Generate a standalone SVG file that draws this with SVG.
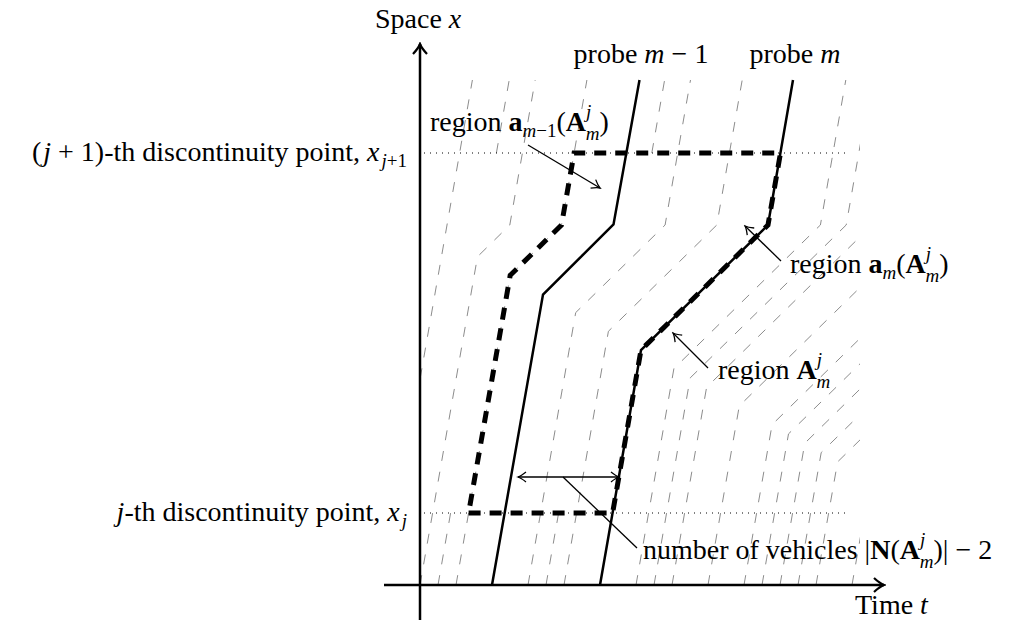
<svg xmlns="http://www.w3.org/2000/svg" width="1016" height="622" viewBox="0 0 1016 622">
<style>
text { font-family: "Liberation Serif", "Times New Roman", serif; font-size: 28px; fill: #000; }
.it { font-style: italic; }
.bf { font-weight: bold; }
.sm { font-size: 19px; }
.traj { fill: none; stroke: #8c8c8c; stroke-width: 1; stroke-dasharray: 10 11; }
.probe { fill: none; stroke: #000; stroke-width: 2.5; }
.axis { fill: none; stroke: #000; stroke-width: 2.5; }
.dot { fill: none; stroke: #000; stroke-width: 1; stroke-dasharray: 1 5; }
.thick { fill: none; stroke: #000; stroke-width: 5; stroke-dasharray: 12 9; }
.arr { fill: none; stroke: #000; stroke-width: 1.3; }
</style>
<defs>
<clipPath id="clip"><rect x="420" y="80" width="440" height="505"/></clipPath>
<marker id="axh" viewBox="-12 -8 14 16" refX="0" refY="0" markerWidth="14" markerHeight="16" markerUnits="userSpaceOnUse" orient="auto">
<path d="M-10,-7 Q-4,-1.5 0,0 Q-4,1.5 -10,7" fill="none" stroke="#000" stroke-width="2.2"/>
</marker>
<marker id="ah" viewBox="-10 -6 12 12" refX="0" refY="0" markerWidth="12" markerHeight="12" markerUnits="userSpaceOnUse" orient="auto-start-reverse">
<path d="M-8,-5 Q-3,-1 0,0 Q-3,1 -8,5" fill="none" stroke="#000" stroke-width="1.3"/>
</marker>
</defs>

<g id="trajectories" clip-path="url(#clip)">
<path class="traj" d="M384,585 L472.4,80"/>
<path class="traj" d="M496.4,153 L509.2,80"/>
<path class="traj" d="M420,585 L477.5,256.7 L509.8,225 L535.2,80"/>
<path class="traj" d="M438,585 L450.6,513"/>
<path class="traj" d="M456,585 L510.2,275.3 L561.5,225 L586.9,80"/>
<path class="traj" d="M651.8,153 L664.6,80"/>
<path class="traj" d="M528,585 L575.7,312.6 L665.1,225 L690.5,80"/>
<path class="traj" d="M546,585 L558.6,513"/>
<path class="traj" d="M564,585 L608.4,331.3 L716.8,225 L742.2,80"/>
<path class="traj" d="M636,585 L673.9,368.6 L820.4,225 L845.8,80"/>
<path class="traj" d="M654,585 L690.2,377.9 L846.2,225 L871.6,80"/>
<path class="traj" d="M672,585 L706.6,387.3 L872.1,225"/>
<path class="traj" d="M708,585 L739.3,405.9 L923.8,225"/>
<path class="traj" d="M744,585 L772.1,424.6 L975.7,225"/>
<path class="traj" d="M762,585 L788.5,433.9 L1001.6,225"/>
<path class="traj" d="M780,585 L804.8,443.2 L1027.4,225"/>
<path class="traj" d="M798,585 L821.2,452.6 L1053.4,225"/>
<path class="traj" d="M816,585 L837.6,461.9 L1079.2,225"/>
<path class="traj" d="M852,585 L870.3,480.6"/>
</g>

<g id="discontinuities">
<path class="dot" d="M424,153 H850"/>
<path class="dot" d="M424,513 H850"/>
</g>

<g id="probe-m-1"><path class="probe" d="M492,585 L543,294.5 L613.5,224.5 L639.5,80"/></g>
<g id="probe-m"><path class="probe" d="M600,585 L641,350 L768,225 L793,80"/></g>
<g id="region-boundary"><path class="thick" d="M468.6,513 L612.6,513 L641,350 L768,225 L780.5,153 L574.1,153 L561.5,225 L510.2,275.3 Z"/></g>

<g id="axes">
<path class="axis" d="M420,620 V44" marker-end="url(#axh)"/>
<path class="axis" d="M384,585 H884" marker-end="url(#axh)"/>
</g>

<g id="connectors">
<path class="arr" d="M528,145 L600,188" marker-end="url(#ah)"/>
<path class="arr" d="M781,261 L745,226" marker-end="url(#ah)"/>
<path class="arr" d="M708,368 L673,333" marker-end="url(#ah)"/>
<path class="arr" d="M518,477 H619" marker-start="url(#ah)" marker-end="url(#ah)"/>
<path class="arr" d="M563,477 L637,548"/>
</g>

<g id="labels">
<text x="375" y="28">Space <tspan class="it">x</tspan></text>
<text x="641" y="63" text-anchor="middle">probe <tspan class="it">m</tspan> − 1</text>
<text x="795" y="63" text-anchor="middle">probe <tspan class="it">m</tspan></text>
<text x="407" y="161" text-anchor="end">(<tspan class="it" dx="2">j</tspan> + 1)-th discontinuity point, <tspan class="it">x</tspan><tspan class="sm it" dx="2" dy="6">j</tspan><tspan class="sm">+1</tspan></text>
<text x="407" y="521" text-anchor="end"><tspan class="it">j</tspan>-th discontinuity point, <tspan class="it">x</tspan><tspan class="sm it" dx="2" dy="6">j</tspan></text>
<text x="855" y="614">Time <tspan class="it">t</tspan></text>
<text x="430" y="131">region <tspan class="bf">a</tspan><tspan class="sm it" dy="6">m</tspan><tspan class="sm">−1</tspan><tspan dy="-6">(</tspan><tspan class="bf">A</tspan><tspan class="sm it" dy="-13">j</tspan><tspan class="sm it" dx="-5.5" dy="22">m</tspan><tspan dy="-9">)</tspan></text>
<text x="790" y="273">region <tspan class="bf">a</tspan><tspan class="sm it" dy="6">m</tspan><tspan dy="-6">(</tspan><tspan class="bf">A</tspan><tspan class="sm it" dy="-13">j</tspan><tspan class="sm it" dx="-5.5" dy="22">m</tspan><tspan dy="-9">)</tspan></text>
<text x="718" y="379">region <tspan class="bf">A</tspan><tspan class="sm it" dy="-13">j</tspan><tspan class="sm it" dx="-5.5" dy="22">m</tspan></text>
<text x="643" y="559">number of vehicles |<tspan class="bf">N</tspan>(<tspan class="bf">A</tspan><tspan class="sm it" dy="-13">j</tspan><tspan class="sm it" dx="-5.5" dy="22">m</tspan><tspan dy="-9">)| − 2</tspan></text>
</g>
</svg>
